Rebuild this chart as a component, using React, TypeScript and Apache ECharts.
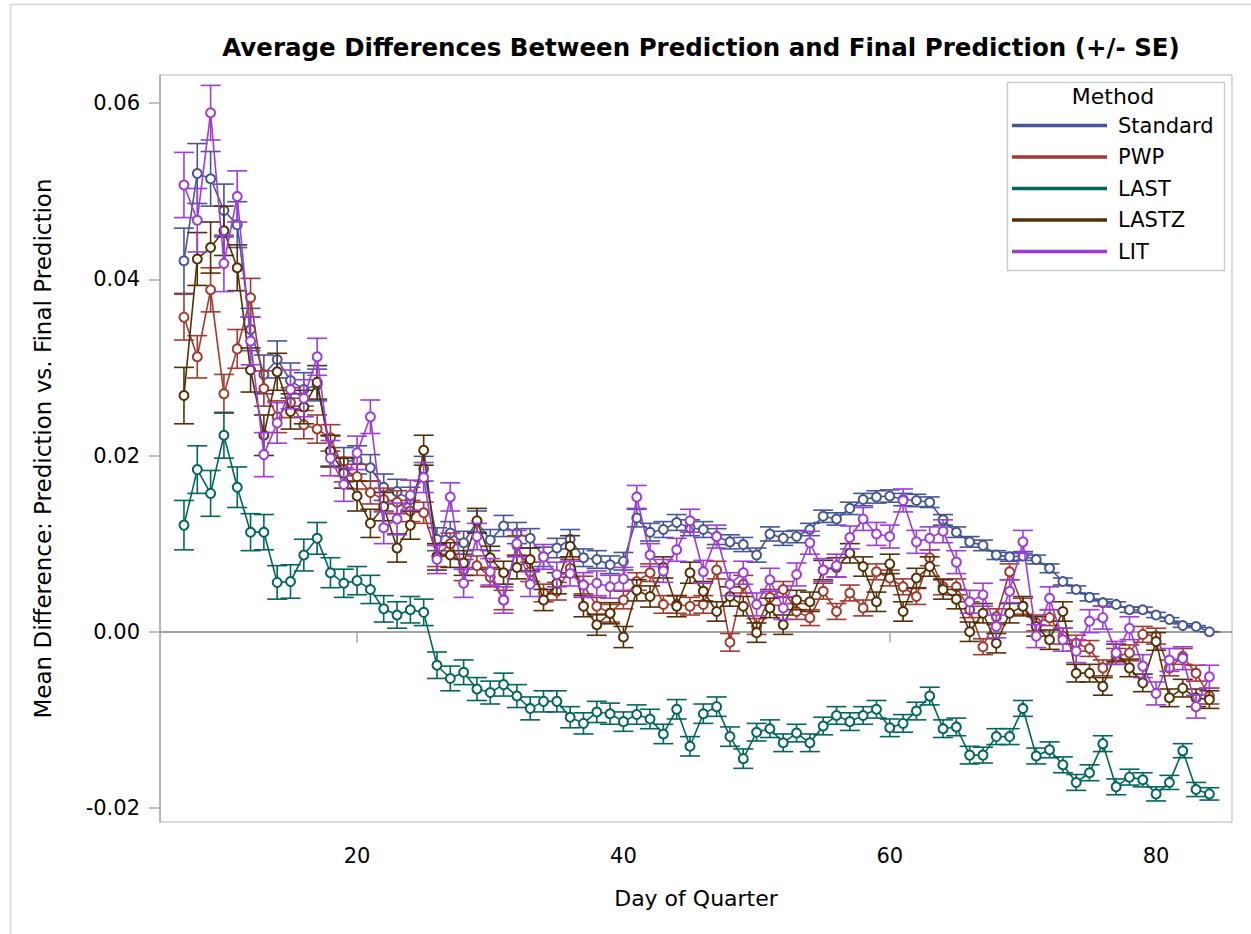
import React, { useEffect, useRef } from "react";
import * as echarts from "echarts";

// Day of quarter (x values)
const days = [
  7, 8, 9, 10, 11, 12, 13, 14, 15, 16, 17, 18, 19, 20, 21, 22, 23, 24, 25, 26,
  27, 28, 29, 30, 31, 32, 33, 34, 35, 36, 37, 38, 39, 40, 41, 42, 43, 44, 45, 46,
  47, 48, 49, 50, 51, 52, 53, 54, 55, 56, 57, 58, 59, 60, 61, 62, 63, 64, 65, 66,
  67, 68, 69, 70, 71, 72, 73, 74, 75, 76, 77, 78, 79, 80, 81, 82, 83, 84,
];

// Mean differences, in units of 0.001
const standardMean = [
  42.1, 52.0, 51.4, 47.8, 46.2, 34.3, 29.2, 30.9, 28.5, 27.5,
  28.0, 20.5, 19.3, 19.5, 18.6, 16.4, 15.9, 15.0, 18.5, 10.5,
  11.2, 10.1, 12.5, 10.4, 12.0, 11.2, 10.6, 8.5, 9.5, 10.5,
  8.4, 8.2, 7.6, 8.0, 12.9, 11.3, 11.6, 12.4, 11.8, 11.6,
  10.8, 10.2, 9.9, 8.7, 11.1, 10.6, 10.8, 11.6, 13.1, 12.8,
  14.0, 15.0, 15.3, 15.4, 15.0, 14.9, 14.7, 12.7, 11.3, 10.2,
  9.8, 8.7, 8.5, 8.6, 8.2, 7.2, 5.7, 4.8, 3.9, 3.3,
  3.1, 2.5, 2.5, 1.9, 1.4, 0.7, 0.6, 0.0,
];
const pwpMean = [
  35.7, 31.2, 38.8, 27.0, 32.1, 37.9, 27.6, 24.4, 26.0, 23.5,
  23.0, 22.0, 18.4, 17.6, 15.8, 15.0, 14.7, 13.7, 13.5, 8.6,
  10.0, 7.0, 7.5, 6.2, 3.6, 9.8, 6.8, 4.4, 4.6, 7.2,
  5.3, 2.9, 2.1, 3.6, 5.7, 6.7, 3.1, 3.1, 2.9, 3.1,
  7.0, -1.2, 5.4, 0.6, 3.9, 4.8, 2.3, 1.6, 4.6, 2.3,
  4.4, 2.7, 6.8, 6.1, 5.1, 4.0, 8.4, 5.1, 5.1, 2.5,
  -1.7, 1.7, 6.8, 2.9, 1.0, 1.6, -0.5, -1.3, -1.9, -4.1,
  -2.8, -2.4, -0.3, -0.5, -4.1, -2.8, -4.7, -7.3,
];
const lastMean = [
  12.1, 18.4, 15.7, 22.3, 16.4, 11.3, 11.3, 5.6, 5.7, 8.7,
  10.6, 6.7, 5.5, 5.8, 4.8, 2.6, 1.9, 2.5, 2.2, -3.8,
  -5.3, -4.6, -6.5, -6.9, -6.0, -7.3, -8.7, -7.9, -7.9, -9.7,
  -10.4, -9.1, -9.3, -10.2, -9.4, -9.9, -11.6, -8.8, -13.0, -9.3,
  -8.5, -11.9, -14.4, -11.4, -11.0, -12.6, -11.5, -12.6, -10.7, -9.5,
  -10.2, -9.5, -8.8, -10.9, -10.4, -9.0, -7.3, -11.0, -10.8, -14.0,
  -14.0, -11.9, -11.9, -8.7, -14.1, -13.4, -15.1, -17.1, -16.0, -12.7,
  -17.6, -16.5, -16.8, -18.4, -17.1, -13.5, -17.9, -18.4,
];
const lastzMean = [
  26.8, 42.3, 43.6, 45.5, 41.3, 29.7, 22.3, 29.5, 25.0, 25.5,
  28.3, 20.5, 18.0, 15.4, 12.3, 14.2, 9.5, 12.1, 20.6, 8.5,
  8.7, 7.8, 12.6, 8.4, 6.7, 7.3, 8.2, 3.6, 5.5, 9.7,
  2.9, 0.8, 2.1, -0.6, 4.7, 4.0, 7.3, 2.9, 6.7, 4.6,
  2.3, 4.0, 2.9, -0.1, 2.7, 0.8, 3.6, 3.4, 7.0, 7.3,
  8.9, 7.4, 3.4, 7.7, 2.3, 6.1, 7.4, 4.8, 3.7, 0.0,
  2.1, -1.3, 2.1, 2.9, 0.6, -0.9, 2.3, -4.7, -4.7, -6.2,
  -2.4, -4.1, -5.8, -1.1, -7.5, -6.4, -7.5, -7.7,
];
const litMean = [
  50.7, 46.7, 58.9, 41.8, 49.4, 33.0, 20.1, 23.7, 27.5, 26.5,
  31.2, 19.7, 16.7, 20.3, 24.4, 11.8, 12.8, 15.5, 17.5, 8.2,
  15.3, 5.5, 10.8, 6.8, 3.6, 10.0, 5.4, 8.5, 6.5, 6.6,
  5.3, 5.5, 5.1, 6.0, 15.3, 8.7, 6.9, 9.3, 12.6, 6.8,
  10.8, 5.4, 6.7, 3.1, 5.9, 2.7, 6.5, 10.1, 7.0, 7.5,
  10.7, 12.8, 11.1, 10.8, 14.9, 10.2, 10.6, 11.4, 7.9, 3.4,
  4.2, 0.6, 4.6, 10.2, -0.5, 3.8, -0.9, -2.2, 1.2, 1.6,
  -2.4, 0.4, -3.9, -7.0, -3.2, -3.0, -8.5, -5.1,
];

// Standard errors, in units of 0.001
const standardSE = [
  3.7, 3.4, 3.1, 3.0, 2.6, 2.4, 2.2, 2.1, 2.0, 1.9,
  1.8, 1.7, 1.6, 1.6, 1.5, 1.5, 1.4, 1.4, 1.4, 1.3,
  1.3, 1.3, 1.2, 1.2, 1.2, 1.2, 1.1, 1.1, 1.1, 1.1,
  1.0, 1.0, 1.0, 1.0, 1.0, 1.0, 0.9, 0.9, 0.9, 0.9,
  0.9, 0.8, 0.8, 0.8, 0.8, 0.8, 0.7, 0.7, 0.7, 0.7,
  0.7, 0.7, 0.7, 0.7, 0.7, 0.7, 0.6, 0.6, 0.6, 0.6,
  0.6, 0.5, 0.5, 0.5, 0.5, 0.5, 0.4, 0.4, 0.4, 0.4,
  0.3, 0.3, 0.3, 0.3, 0.2, 0.2, 0.1, 0.0,
];
const pwpSE = [
  2.6, 2.4, 2.5, 2.2, 2.2, 2.2, 2.0, 1.8, 1.7, 1.6,
  1.6, 1.5, 1.4, 1.4, 1.3, 1.3, 1.3, 1.2, 1.2, 1.2,
  1.2, 1.2, 1.1, 1.1, 1.1, 1.1, 1.1, 1.0, 1.0, 1.0,
  1.0, 1.0, 1.0, 1.0, 1.0, 1.0, 1.0, 1.0, 1.0, 1.0,
  1.0, 1.0, 1.0, 0.9, 0.9, 0.9, 0.9, 0.9, 0.9, 0.9,
  0.9, 0.9, 0.9, 0.9, 0.9, 0.9, 0.9, 0.9, 0.9, 0.9,
  0.9, 0.9, 0.9, 0.9, 0.9, 0.9, 0.9, 0.9, 0.9, 0.9,
  0.9, 0.9, 0.9, 0.9, 0.9, 0.9, 0.9, 0.9,
];
const lastSE = [
  2.8, 2.7, 2.6, 2.6, 2.3, 2.1, 2.0, 1.9, 1.9, 1.8,
  1.8, 1.7, 1.6, 1.6, 1.6, 1.5, 1.5, 1.5, 1.5, 1.5,
  1.4, 1.4, 1.3, 1.3, 1.3, 1.3, 1.3, 1.2, 1.2, 1.2,
  1.2, 1.2, 1.2, 1.1, 1.1, 1.1, 1.1, 1.1, 1.1, 1.1,
  1.1, 1.1, 1.1, 1.0, 1.0, 1.0, 1.0, 1.0, 1.0, 1.0,
  1.0, 1.0, 1.0, 1.0, 1.0, 1.0, 1.0, 1.0, 1.0, 1.0,
  0.9, 0.9, 0.9, 0.9, 0.9, 0.9, 0.9, 0.9, 0.9, 0.9,
  0.9, 0.9, 0.8, 0.8, 0.8, 0.8, 0.8, 0.7,
];
const lastzSE = [
  3.2, 3.0, 2.9, 2.8, 2.6, 2.5, 2.3, 2.1, 2.0, 1.9,
  1.9, 1.8, 1.7, 1.7, 1.6, 1.6, 1.6, 1.6, 1.7, 1.5,
  1.4, 1.4, 1.4, 1.3, 1.3, 1.3, 1.3, 1.2, 1.2, 1.2,
  1.2, 1.2, 1.2, 1.2, 1.2, 1.2, 1.2, 1.2, 1.2, 1.1,
  1.1, 1.1, 1.1, 1.1, 1.1, 1.1, 1.1, 1.1, 1.1, 1.1,
  1.1, 1.1, 1.1, 1.1, 1.1, 1.1, 1.1, 1.1, 1.1, 1.1,
  1.1, 1.1, 1.1, 1.1, 1.1, 1.1, 1.1, 1.0, 1.0, 1.0,
  1.0, 1.0, 1.0, 1.0, 1.0, 1.0, 1.0, 1.0,
];
const litSE = [
  3.7, 3.6, 3.1, 3.2, 2.9, 2.7, 2.5, 2.3, 2.2, 2.1,
  2.1, 2.0, 1.9, 1.9, 1.9, 1.8, 1.8, 1.7, 1.7, 1.6,
  1.6, 1.6, 1.5, 1.5, 1.5, 1.5, 1.4, 1.4, 1.4, 1.4,
  1.4, 1.4, 1.3, 1.3, 1.3, 1.3, 1.3, 1.3, 1.3, 1.3,
  1.3, 1.3, 1.3, 1.3, 1.3, 1.3, 1.3, 1.3, 1.3, 1.3,
  1.3, 1.3, 1.3, 1.3, 1.3, 1.3, 1.3, 1.3, 1.3, 1.3,
  1.3, 1.3, 1.3, 1.3, 1.3, 1.3, 1.3, 1.3, 1.3, 1.3,
  1.3, 1.3, 1.3, 1.3, 1.3, 1.3, 1.3, 1.3,
];

const methodNames = ["Standard", "PWP", "LAST", "LASTZ", "LIT"];
const methodColors = ["#445694", "#A23A2E", "#01665E", "#543005", "#9D3CDB"];
const methodMeans = [standardMean, pwpMean, lastMean, lastzMean, litMean];
const methodSEs = [standardSE, pwpSE, lastSE, lastzSE, litSE];

const yTicks = [-0.02, 0, 0.02, 0.04, 0.06];
const xTicks = [20, 40, 60, 80];

const FONT = "'DejaVu Sans', Verdana, sans-serif";
const AXIS_GRAY = "#a4abb1";

export default function App() {
  const ref = useRef<HTMLDivElement>(null);

  useEffect(() => {
    if (!ref.current) return;
    const chart = echarts.init(ref.current, undefined, { renderer: "svg" });

    const series: any[] = [];
    methodNames.forEach((name, k) => {
      const color = methodColors[k];
      const mean = methodMeans[k];
      const se = methodSEs[k];
      series.push({
        type: "custom",
        name: name + " SE",
        silent: true,
        z: 2 + k * 2,
        data: days.map((d, i) => [d, (mean[i] - se[i]) / 1000, (mean[i] + se[i]) / 1000]),
        encode: { x: 0, y: [1, 2] },
        renderItem: (_params: any, api: any) => {
          const x = api.value(0);
          const lo = api.coord([x, api.value(1)]);
          const hi = api.coord([x, api.value(2)]);
          const hw = 10;
          const st = { stroke: color, lineWidth: 1.6 };
          return {
            type: "group",
            children: [
              { type: "line", shape: { x1: lo[0], y1: lo[1], x2: hi[0], y2: hi[1] }, style: st },
              { type: "line", shape: { x1: lo[0] - hw, y1: lo[1], x2: lo[0] + hw, y2: lo[1] }, style: st },
              { type: "line", shape: { x1: hi[0] - hw, y1: hi[1], x2: hi[0] + hw, y2: hi[1] }, style: st },
            ],
          };
        },
      });
      const line: any = {
        type: "line",
        name,
        z: 3 + k * 2,
        color,
        data: days.map((d, i) => [d, mean[i] / 1000]),
        symbol: "emptyCircle",
        symbolSize: 9,
        showSymbol: true,
        lineStyle: { color, width: 1.6 },
        itemStyle: { color, borderColor: color, borderWidth: 1.6 },
        emphasis: { disabled: true },
      };
      if (k === 0) {
        line.markLine = {
          silent: true,
          symbol: "none",
          label: { show: false },
          lineStyle: { color: "#9a9a9a", width: 1.5, type: "solid" },
          data: [{ yAxis: 0 }],
          z: 1,
        };
      }
      series.push(line);
    });

    chart.setOption({
      animation: false,
      backgroundColor: "#ffffff",
      textStyle: { fontFamily: FONT },
      title: {
        text: "Average Differences Between Prediction and Final Prediction (+/- SE)",
        left: 696,
        top: 30,
        textAlign: "center",
        textStyle: { fontFamily: FONT, fontSize: 24.5, fontWeight: "bold", color: "#000000" },
      },
      grid: {
        left: 160,
        top: 75,
        width: 1072,
        height: 747,
        show: true,
        borderColor: "#b3b9be",
        borderWidth: 1,
        backgroundColor: "transparent",
      },
      legend: {
        orient: "vertical",
        left: 1012,
        top: 115,
        padding: 0,
        itemWidth: 93,
        itemHeight: 20,
        itemGap: 10.5,
        icon: "path://M0,0 L93,0 L93,1.6 L0,1.6 Z",
        data: methodNames,
        selectedMode: false,
        textStyle: { fontFamily: FONT, fontSize: 21, color: "#000000", padding: [0, 0, 0, 7] },
      },
      xAxis: {
        type: "value",
        min: 5.2,
        max: 85.7,
        name: "Day of Quarter",
        nameLocation: "middle",
        nameGap: 65,
        nameTextStyle: { fontFamily: FONT, fontSize: 22, color: "#000000" },
        axisLine: { show: true, lineStyle: { color: AXIS_GRAY, width: 1.5 } },
        axisTick: { show: true, inside: false, length: 11, customValues: xTicks, lineStyle: { color: AXIS_GRAY, width: 1.5 } },
        axisLabel: { customValues: xTicks, margin: 23, fontFamily: FONT, fontSize: 21, color: "#000000" },
        splitLine: { show: false },
      },
      yAxis: {
        type: "value",
        min: -0.02159,
        max: 0.06318,
        name: "Mean Difference: Prediction vs. Final Prediction",
        nameLocation: "middle",
        nameGap: 106,
        nameTextStyle: { fontFamily: FONT, fontSize: 23, color: "#000000" },
        axisLine: { show: true, lineStyle: { color: AXIS_GRAY, width: 1.5 } },
        axisTick: { show: true, inside: false, length: 11, customValues: yTicks, lineStyle: { color: AXIS_GRAY, width: 1.5 } },
        axisLabel: {
          customValues: yTicks,
          margin: 20,
          fontFamily: FONT,
          fontSize: 21,
          color: "#000000",
          formatter: (v: number) => v.toFixed(2),
        },
        splitLine: { show: false },
      },
      graphic: [
        {
          type: "rect",
          left: 8,
          top: 2,
          shape: { width: 1260, height: 960 },
          style: { fill: "none", stroke: "#d6d6d6", lineWidth: 1.5 },
          z: 0,
          silent: true,
        },
        {
          type: "rect",
          left: 1005,
          top: 80,
          shape: { width: 217, height: 188 },
          style: { fill: "none", stroke: "#c9cdd0", lineWidth: 1.5 },
          z: 100,
        },
        {
          type: "text",
          x: 1113,
          y: 96,
          style: {
            text: "Method",
            fontFamily: FONT,
            fontSize: 22,
            fill: "#000000",
            align: "center",
            verticalAlign: "middle",
          },
          z: 100,
        },
      ],
      series,
    });

    return () => chart.dispose();
  }, []);

  return (
    <div
      ref={ref}
      style={{ position: "absolute", left: 0, top: 0, width: 1251, height: 934, background: "#fff" }}
    />
  );
}
